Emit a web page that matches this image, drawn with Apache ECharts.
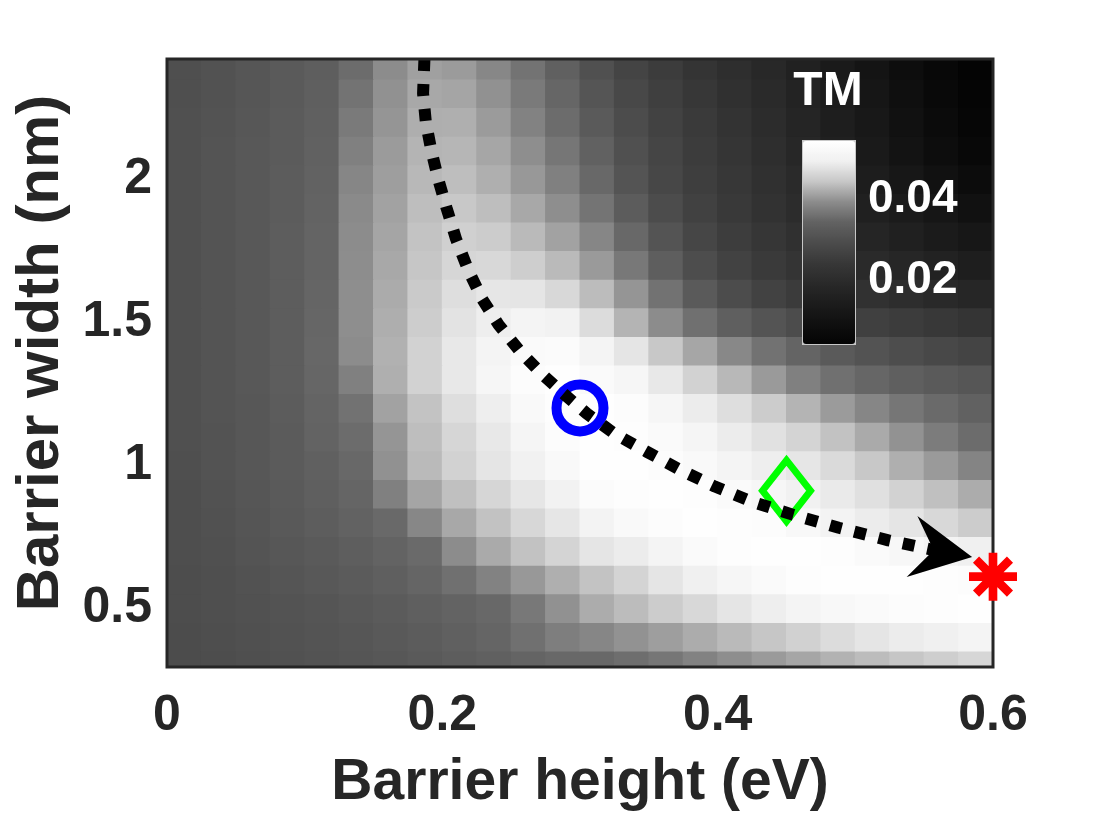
<!DOCTYPE html>
<html>
<head>
<meta charset="utf-8">
<script src="https://cdn.jsdelivr.net/npm/echarts@6.0.0/dist/echarts.min.js"></script>
<style>
  html, body { margin: 0; padding: 0; background: #fff; }
  #chart { width: 1094px; height: 820px; }
</style>
</head>
<body>
<div id="chart"></div>
<script>
// Barrier height (eV) at the centre of each column of the map
const barrierHeight = [0.0125, 0.0375, 0.0625, 0.0875, 0.1125, 0.1375, 0.1625, 0.1875, 0.2125, 0.2375, 0.2625, 0.2875,
    0.3125, 0.3375, 0.3625, 0.3875, 0.4125, 0.4375, 0.4625, 0.4875, 0.5125, 0.5375, 0.5625, 0.5875];
// Barrier width (nm) at the centre of each row, bottom to top
const barrierWidth = [0.3, 0.4, 0.5, 0.6, 0.7, 0.8, 0.9, 1.0, 1.1, 1.2, 1.3, 1.4, 1.5, 1.6, 1.7, 1.8, 1.9, 2.0, 2.1, 2.2, 2.3, 2.4];
const tmGrid = [
    [0.0290, 0.0292, 0.0297, 0.0301, 0.0306, 0.0310, 0.0315, 0.0322, 0.0329, 0.0335, 0.0342, 0.0347, 0.0347, 0.0354, 0.0364, 0.0378, 0.0392, 0.0402, 0.0412, 0.0422, 0.0431, 0.0439, 0.0449, 0.0458],
    [0.0290, 0.0295, 0.0299, 0.0304, 0.0308, 0.0313, 0.0320, 0.0326, 0.0335, 0.0344, 0.0357, 0.0373, 0.0383, 0.0395, 0.0405, 0.0417, 0.0429, 0.0439, 0.0452, 0.0466, 0.0477, 0.0485, 0.0490, 0.0503],
    [0.0292, 0.0297, 0.0301, 0.0306, 0.0310, 0.0317, 0.0324, 0.0333, 0.0341, 0.0347, 0.0366, 0.0394, 0.0417, 0.0431, 0.0446, 0.0461, 0.0476, 0.0488, 0.0503, 0.0517, 0.0523, 0.0530, 0.0533, 0.0537],
    [0.0292, 0.0297, 0.0304, 0.0310, 0.0317, 0.0324, 0.0333, 0.0344, 0.0357, 0.0378, 0.0400, 0.0420, 0.0437, 0.0456, 0.0476, 0.0490, 0.0510, 0.0523, 0.0533, 0.0537, 0.0537, 0.0537, 0.0533, 0.0530],
    [0.0295, 0.0299, 0.0308, 0.0315, 0.0322, 0.0331, 0.0341, 0.0350, 0.0390, 0.0415, 0.0436, 0.0456, 0.0476, 0.0485, 0.0503, 0.0523, 0.0533, 0.0537, 0.0537, 0.0533, 0.0523, 0.0513, 0.0500, 0.0490],
    [0.0295, 0.0301, 0.0310, 0.0320, 0.0329, 0.0340, 0.0348, 0.0384, 0.0414, 0.0436, 0.0460, 0.0478, 0.0500, 0.0520, 0.0530, 0.0537, 0.0533, 0.0530, 0.0517, 0.0500, 0.0485, 0.0476, 0.0461, 0.0446],
    [0.0295, 0.0304, 0.0313, 0.0322, 0.0333, 0.0344, 0.0376, 0.0411, 0.0434, 0.0458, 0.0478, 0.0497, 0.0527, 0.0533, 0.0537, 0.0533, 0.0523, 0.0510, 0.0493, 0.0483, 0.0471, 0.0453, 0.0434, 0.0417],
    [0.0297, 0.0306, 0.0315, 0.0324, 0.0335, 0.0347, 0.0394, 0.0429, 0.0453, 0.0477, 0.0493, 0.0520, 0.0537, 0.0537, 0.0530, 0.0520, 0.0503, 0.0488, 0.0478, 0.0463, 0.0441, 0.0420, 0.0402, 0.0380],
    [0.0299, 0.0306, 0.0315, 0.0324, 0.0341, 0.0352, 0.0398, 0.0432, 0.0458, 0.0480, 0.0507, 0.0530, 0.0537, 0.0533, 0.0523, 0.0507, 0.0485, 0.0472, 0.0456, 0.0436, 0.0415, 0.0395, 0.0371, 0.0352],
    [0.0299, 0.0308, 0.0315, 0.0326, 0.0342, 0.0359, 0.0409, 0.0437, 0.0468, 0.0488, 0.0520, 0.0533, 0.0537, 0.0530, 0.0510, 0.0485, 0.0468, 0.0446, 0.0424, 0.0403, 0.0383, 0.0364, 0.0350, 0.0338],
    [0.0299, 0.0308, 0.0317, 0.0329, 0.0345, 0.0376, 0.0420, 0.0453, 0.0480, 0.0510, 0.0530, 0.0537, 0.0523, 0.0510, 0.0480, 0.0453, 0.0427, 0.0402, 0.0376, 0.0357, 0.0345, 0.0333, 0.0322, 0.0313],
    [0.0299, 0.0308, 0.0317, 0.0329, 0.0346, 0.0390, 0.0421, 0.0453, 0.0480, 0.0503, 0.0523, 0.0527, 0.0503, 0.0476, 0.0441, 0.0412, 0.0385, 0.0359, 0.0342, 0.0322, 0.0306, 0.0292, 0.0280, 0.0270],
    [0.0299, 0.0308, 0.0317, 0.0329, 0.0345, 0.0392, 0.0419, 0.0447, 0.0474, 0.0488, 0.0503, 0.0497, 0.0466, 0.0424, 0.0390, 0.0357, 0.0333, 0.0308, 0.0290, 0.0275, 0.0260, 0.0250, 0.0240, 0.0227],
    [0.0299, 0.0308, 0.0317, 0.0329, 0.0344, 0.0392, 0.0416, 0.0444, 0.0468, 0.0478, 0.0476, 0.0461, 0.0431, 0.0398, 0.0359, 0.0322, 0.0290, 0.0265, 0.0248, 0.0233, 0.0217, 0.0203, 0.0190, 0.0178],
    [0.0299, 0.0308, 0.0317, 0.0329, 0.0342, 0.0391, 0.0414, 0.0439, 0.0458, 0.0461, 0.0449, 0.0429, 0.0402, 0.0366, 0.0331, 0.0292, 0.0265, 0.0245, 0.0227, 0.0210, 0.0193, 0.0178, 0.0163, 0.0148],
    [0.0299, 0.0308, 0.0317, 0.0329, 0.0342, 0.0390, 0.0411, 0.0437, 0.0451, 0.0446, 0.0429, 0.0409, 0.0383, 0.0347, 0.0308, 0.0275, 0.0253, 0.0233, 0.0213, 0.0193, 0.0175, 0.0155, 0.0136, 0.0119],
    [0.0299, 0.0308, 0.0317, 0.0326, 0.0341, 0.0388, 0.0409, 0.0432, 0.0441, 0.0432, 0.0414, 0.0392, 0.0361, 0.0326, 0.0290, 0.0263, 0.0243, 0.0220, 0.0200, 0.0178, 0.0155, 0.0136, 0.0115, 0.0094],
    [0.0299, 0.0308, 0.0317, 0.0326, 0.0340, 0.0383, 0.0405, 0.0427, 0.0432, 0.0420, 0.0400, 0.0376, 0.0347, 0.0308, 0.0278, 0.0255, 0.0237, 0.0213, 0.0193, 0.0167, 0.0144, 0.0119, 0.0094, 0.0073],
    [0.0299, 0.0308, 0.0317, 0.0324, 0.0338, 0.0376, 0.0403, 0.0424, 0.0426, 0.0412, 0.0392, 0.0364, 0.0338, 0.0299, 0.0273, 0.0250, 0.0230, 0.0207, 0.0182, 0.0155, 0.0132, 0.0103, 0.0078, 0.0057],
    [0.0299, 0.0306, 0.0315, 0.0324, 0.0335, 0.0369, 0.0398, 0.0419, 0.0420, 0.0403, 0.0378, 0.0352, 0.0322, 0.0290, 0.0265, 0.0245, 0.0223, 0.0200, 0.0175, 0.0148, 0.0123, 0.0094, 0.0069, 0.0048],
    [0.0297, 0.0304, 0.0313, 0.0322, 0.0333, 0.0360, 0.0394, 0.0414, 0.0411, 0.0394, 0.0369, 0.0345, 0.0310, 0.0280, 0.0258, 0.0237, 0.0213, 0.0193, 0.0167, 0.0140, 0.0115, 0.0086, 0.0061, 0.0044],
    [0.0297, 0.0304, 0.0313, 0.0322, 0.0331, 0.0352, 0.0390, 0.0407, 0.0403, 0.0384, 0.0360, 0.0335, 0.0299, 0.0270, 0.0250, 0.0227, 0.0207, 0.0186, 0.0159, 0.0132, 0.0107, 0.0078, 0.0057, 0.0040]
];

// dotted trajectory (height, width), ends at the arrow head
const pathHeight = [0.187, 0.186, 0.188, 0.192, 0.197, 0.203, 0.210, 0.219, 0.229, 0.241, 0.256, 0.272,
    0.288, 0.305, 0.325, 0.348, 0.372, 0.398, 0.425, 0.455, 0.488, 0.524, 0.563];
const pathWidth = [2.42, 2.30, 2.20, 2.10, 2.00, 1.90, 1.79, 1.68, 1.58, 1.49, 1.40, 1.32,
    1.25, 1.18, 1.11, 1.048, 0.985, 0.925, 0.872, 0.826, 0.781, 0.737, 0.697];

// marked points
const circlePoint = [0.3, 1.2];
const diamondPoint = [0.45, 0.91];
const starPoint = [0.6, 0.61];

// ticks
const xTicks = [0, 0.2, 0.4, 0.6];
const yTicks = [0.5, 1, 1.5, 2];
const colorbarTicks = [0.02, 0.04];

// grey levels of the colour bar, evenly spaced from min to max
const greyStops = [4, 16, 28, 41, 56, 76, 98, 140, 199, 240, 255];
const tmMin = 0.004, tmMax = 0.054;

const font = '"Liberation Sans", Arial, Helvetica, sans-serif';
const axisColor = '#262626';

const cells = [];
barrierWidth.forEach(function (w, j) {
    barrierHeight.forEach(function (h, i) {
        cells.push([h, w, tmGrid[j][i]]);
    });
});
const dx = barrierHeight[1] - barrierHeight[0];
const dy = barrierWidth[1] - barrierWidth[0];
const path = pathHeight.map(function (h, i) { return [h, pathWidth[i]]; });

function renderCell(params, api) {
    const h = api.value(0), w = api.value(1);
    const a = api.coord([h - dx / 2, w + dy / 2]);
    const b = api.coord([h + dx / 2, w - dy / 2]);
    const rect = echarts.graphic.clipRectByRect(
        { x: a[0] - 0.5, y: a[1] - 0.5, width: b[0] - a[0] + 1, height: b[1] - a[1] + 1 },
        { x: params.coordSys.x, y: params.coordSys.y, width: params.coordSys.width, height: params.coordSys.height }
    );
    if (!rect) return null;
    return { type: 'rect', shape: rect, style: { fill: api.visual('color') } };
}

// colour bar placement
const cbLeft = 802, cbTop = 140, cbWidth = 52, cbHeight = 203;

const starPath = 'path://M-1.8,-10L1.8,-10L1.8,10L-1.8,10Z' +
    'M-10,-1.8L10,-1.8L10,1.8L-10,1.8Z' +
    'M8.34,5.80L5.80,8.34L-8.34,-5.80L-5.80,-8.34Z' +
    'M5.80,-8.34L8.34,-5.80L-5.80,8.34L-8.34,5.80Z';

const chart = echarts.init(document.getElementById('chart'));
chart.setOption({
    animation: false,
    backgroundColor: '#fff',
    grid: {
        left: 167, right: 101, top: 59, bottom: 153,
        show: true, borderColor: axisColor, borderWidth: 3, backgroundColor: 'transparent', z: 10
    },
    xAxis: {
        type: 'value', min: 0, max: 0.6,
        axisLine: { show: false }, axisTick: { show: false }, splitLine: { show: false },
        axisLabel: {
            customValues: xTicks,
            formatter: function (v) { return v === 0 ? '0' : v.toFixed(1); },
            color: axisColor, fontSize: 50, fontWeight: 'bold', fontFamily: font, margin: 24
        },
        name: 'Barrier height (eV)', nameLocation: 'middle', nameGap: 88,
        nameTextStyle: { color: axisColor, fontSize: 57, fontWeight: 'bold', fontFamily: font }
    },
    yAxis: {
        type: 'value', min: 0.294, max: 2.42,
        axisLine: { show: false }, axisTick: { show: false }, splitLine: { show: false },
        axisLabel: {
            customValues: yTicks,
            formatter: function (v) { return String(v); },
            color: axisColor, fontSize: 50, fontWeight: 'bold', fontFamily: font, margin: 15
        },
        name: 'Barrier width (nm)', nameLocation: 'middle', nameGap: 84,
        nameTextStyle: { color: axisColor, fontSize: 60, fontWeight: 'bold', fontFamily: font, padding: [0, 0, 0, 20] }
    },
    visualMap: {
        type: 'continuous',
        seriesIndex: 0, dimension: 2,
        min: tmMin, max: tmMax,
        calculable: false, hoverLink: false,
        left: cbLeft, top: cbTop, itemWidth: cbWidth, itemHeight: cbHeight,
        padding: 0, borderColor: '#c8c8c8', borderWidth: 2,
        text: null,
        inRange: { color: greyStops.map(function (g) { return 'rgb(' + g + ',' + g + ',' + g + ')'; }) },
        z: 12
    },
    graphic: colorbarTicks.map(function (v) {
        return {
            type: 'text', z: 30,
            x: cbLeft + cbWidth + 14,
            y: cbTop + (tmMax - v) / (tmMax - tmMin) * cbHeight + 2,
            style: {
                text: v.toFixed(2), fill: '#fff', font: 'bold 46px ' + font,
                align: 'left', verticalAlign: 'middle', textAlign: 'left', textVerticalAlign: 'middle'
            }
        };
    }).concat([{
        type: 'text', z: 30, x: cbLeft + cbWidth / 2, y: 92,
        style: {
            text: 'TM', fill: '#fff', font: 'bold 48px ' + font,
            align: 'center', verticalAlign: 'middle', textAlign: 'center', textVerticalAlign: 'middle'
        }
    }]),
    series: [
        {
            type: 'custom', renderItem: renderCell, data: cells,
            encode: { x: 0, y: 1 }, z: 1, silent: true
        },
        {
            type: 'scatter', data: [circlePoint], symbol: 'circle', symbolSize: 47, z: 3,
            itemStyle: { color: 'rgba(0,0,0,0)', borderColor: '#0000ff', borderWidth: 10, opacity: 1 }
        },
        {
            type: 'scatter', data: [diamondPoint], symbol: 'diamond', symbolSize: [48, 61], z: 3,
            itemStyle: { color: 'rgba(0,0,0,0)', borderColor: '#00ff00', borderWidth: 7, opacity: 1 }
        },
        {
            type: 'line', data: path, showSymbol: false, symbol: 'none', z: 4, silent: true,
            lineStyle: { color: '#000', width: 12, type: [12, 13], cap: 'butt' }
        },
        {
            type: 'scatter', data: [path[path.length - 1]], z: 5,
            symbol: 'path://M0,0L31,61L0,39L-31,61Z', symbolSize: [62, 61], symbolRotate: -100,
            itemStyle: { color: '#000', opacity: 1 }
        },
        {
            type: 'scatter', data: [starPoint], z: 20, clip: false,
            symbol: starPath, symbolSize: 48,
            itemStyle: { color: '#ff0000', opacity: 1 }
        }
    ]
});
</script>
</body>
</html>
